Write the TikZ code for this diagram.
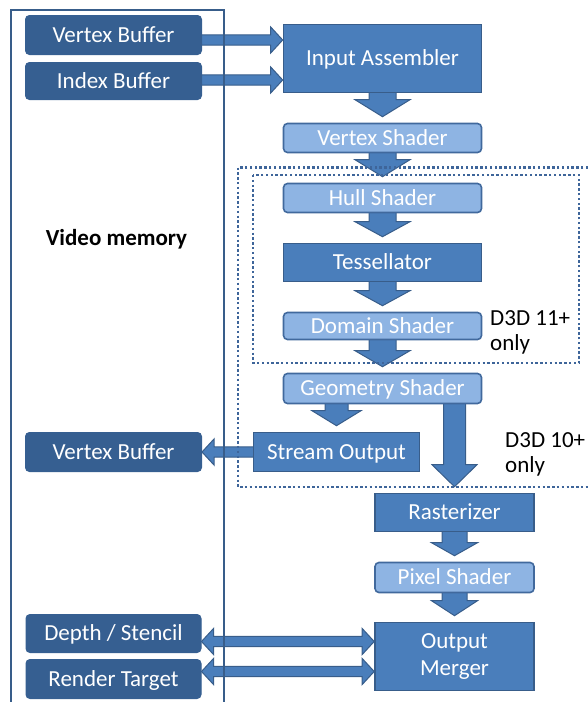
\documentclass[tikz,border=0pt]{standalone}
\usepackage{fontspec}
\setmainfont{Carlito}
\usetikzlibrary{calc}

\pgfdeclarelayer{back}
\pgfdeclarelayer{front}
\pgfsetlayers{back,main,front}

\definecolor{memfill}{HTML}{365F91}
\definecolor{stagefill}{HTML}{4A7EBB}
\definecolor{shaderfill}{HTML}{8EB4E3}
\definecolor{edgec}{HTML}{385D8A}
\definecolor{shaderedge}{HTML}{41699D}
\definecolor{dotc}{HTML}{3E659A}

\tikzset{
  plainbox/.style={inner sep=0pt, text=white, font=\fontsize{23}{27}\selectfont},
  box/.style={plainbox, text height=14.8pt, text depth=0pt},
  membox/.style={box, fill=memfill, draw=memfill, rounded corners=4pt, line width=1pt},
  stagelook/.style={fill=stagefill, draw=edgec, line width=1.6pt},
  stagebox/.style={box, stagelook},
  shaderbox/.style={box, fill=shaderfill, draw=shaderedge, line width=1.6pt, rounded corners=4pt},
  blockarrow/.style={fill=stagefill, draw=edgec, line width=1pt, line join=miter},
  memline/.style={draw=edgec, line width=2pt},
  dotbox/.style={draw=dotc, line width=2.4pt, dash pattern=on 2.4pt off 2.4pt},
  note/.style={inner sep=0pt, font=\fontsize{23}{25}\selectfont, align=left, text=black}
}

% downward block arrow: source, target, shaft half width, head half width, head length
\newcommand\vblock[5]{%
  \path[blockarrow] let \p1=(#1.south), \p2=(#2.north) in
    (\x2-#3pt,\y1+2pt) -- (\x2+#3pt,\y1+2pt) -- (\x2+#3pt,\y2+#5pt+6pt)
    -- (\x2+#4pt,\y2+#5pt+6pt) -- (\x2,\y2+6pt) -- (\x2-#4pt,\y2+#5pt+6pt)
    -- (\x2-#3pt,\y2+#5pt+6pt) -- cycle;}
% rightward block arrow: tail anchor, tip anchor, vertical offset at the tip
\newcommand\harrowR[3]{%
  \path[blockarrow] let \p2=($(#2)+(0,#3)$), \p1=(#1) in
    (\x1-2pt,\y2+5.2pt) -- (\x2-12pt,\y2+5.2pt) -- (\x2-12pt,\y2+13pt) -- (\x2,\y2)
    -- (\x2-12pt,\y2-13pt) -- (\x2-12pt,\y2-5.2pt) -- (\x1-2pt,\y2-5.2pt) -- cycle;}
% leftward block arrow
\newcommand\harrowL[3]{%
  \path[blockarrow] let \p2=($(#2)+(0,#3)$), \p1=(#1) in
    (\x1+2pt,\y2+5.2pt) -- (\x2+12pt,\y2+5.2pt) -- (\x2+12pt,\y2+13pt) -- (\x2,\y2)
    -- (\x2+12pt,\y2-13pt) -- (\x2+12pt,\y2-5.2pt) -- (\x1+2pt,\y2-5.2pt) -- cycle;}
% two-headed block arrow: left anchor, right anchor, vertical offset
\newcommand\harrowLR[3]{%
  \path[blockarrow] let \p2=($(#2)+(0,#3)$), \p1=(#1) in
    (\x1,\y2) -- (\x1+12pt,\y2+13pt) -- (\x1+12pt,\y2+5.2pt) -- (\x2-12pt,\y2+5.2pt)
    -- (\x2-12pt,\y2+13pt) -- (\x2,\y2) -- (\x2-12pt,\y2-13pt) -- (\x2-12pt,\y2-5.2pt)
    -- (\x1+12pt,\y2-5.2pt) -- (\x1+12pt,\y2-13pt) -- cycle;}

\begin{document}
\begin{tikzpicture}[x=1pt,y=-1pt]
\useasboundingbox (0,0) rectangle (588,702);
\clip (0,0) rectangle (588,702);

% video memory resources
\node[membox, minimum width=176pt, minimum height=39pt] (vb1) at (113.5,35) {Vertex Buffer};
\node[membox, minimum width=176pt, minimum height=37pt] (ib)  at (113.5,81) {Index Buffer};
\node[membox, minimum width=176pt, minimum height=39pt] (vb2) at (113.5,452) {Vertex Buffer};
\node[membox, minimum width=175pt, minimum height=38pt] (dst) at (113.5,633.5) {Depth / Stencil};
\node[membox, minimum width=175pt, minimum height=39pt] (rt)  at (113.5,679) {Render Target};

% pipeline stages
\node[stagebox,  minimum width=198pt, minimum height=68pt] (ia) at (382.5,58.5) {Input Assembler};
\node[shaderbox, minimum width=198pt, minimum height=29pt] (vs) at (382.5,138) {Vertex Shader};
\node[shaderbox, minimum width=198pt, minimum height=29pt] (hs) at (382.5,198) {Hull Shader};
\node[stagebox,  minimum width=198pt, minimum height=38pt] (te) at (382.5,262.5) {Tessellator};
\node[shaderbox, minimum width=198pt, minimum height=27pt] (dm) at (382.5,326) {Domain Shader};
\node[shaderbox, minimum width=198pt, minimum height=30pt] (gs) at (382.5,388.5) {Geometry Shader};
\node[stagebox,  minimum width=166pt, minimum height=39pt] (so) at (336.5,452) {Stream Output};
\node[stagebox,  minimum width=159pt, minimum height=38pt] (ra) at (454.5,512.5) {Rasterizer};
\node[shaderbox, minimum width=159pt, minimum height=30pt] (ps) at (454.5,577.5) {Pixel Shader};
\node[plainbox, stagelook, minimum width=159pt, minimum height=68pt, align=center]
  (om) at (454.5,656.5) {Output\\Merger};

% captions
\node[inner sep=0pt, anchor=base, font=\bfseries\fontsize{23}{27}\selectfont] (vmem)
  at (116.5,245.5) {Video memory};
\node[note, anchor=north west] (d11) at (490,310) {D3D 11+\\only};
\node[note, anchor=north west] (d10) at (505,432) {D3D 10+\\only};

% data flow arrows
\begin{pgfonlayer}{back}
  \harrowR{vb1.east}{ia.west}{-18.5}
  \harrowR{ib.east}{ia.west}{21.5}
  \vblock{ia}{vs}{13.5}{27.5}{17}
  \vblock{vs}{hs}{13.5}{27.5}{17}
  \vblock{hs}{te}{13.5}{27.5}{15}
  \vblock{te}{dm}{13.5}{27.5}{15}
  \vblock{dm}{gs}{13.5}{27.5}{16}
  \vblock{gs}{so}{11.5}{24.5}{15}
  \vblock{gs}{ra}{11}{22.5}{22}
  \vblock{ra}{ps}{12.5}{23}{13}
  \vblock{ps}{om}{12.5}{23}{15}
  \harrowL{so.west}{vb2.east}{0}
  \harrowLR{dst.east}{om.west}{-15}
  \harrowLR{rt.east}{om.west}{15}
\end{pgfonlayer}

% memory region outline and feature-level frames
\begin{pgfonlayer}{front}
  \draw[memline] (11,712) -- (11,10) -- (224,10) -- (224,712);
  \draw[dotbox] (238,167.5) rectangle (600,487);
  \draw[dotbox] (253,175) rectangle (579,363);
\end{pgfonlayer}
\end{tikzpicture}
\end{document}
